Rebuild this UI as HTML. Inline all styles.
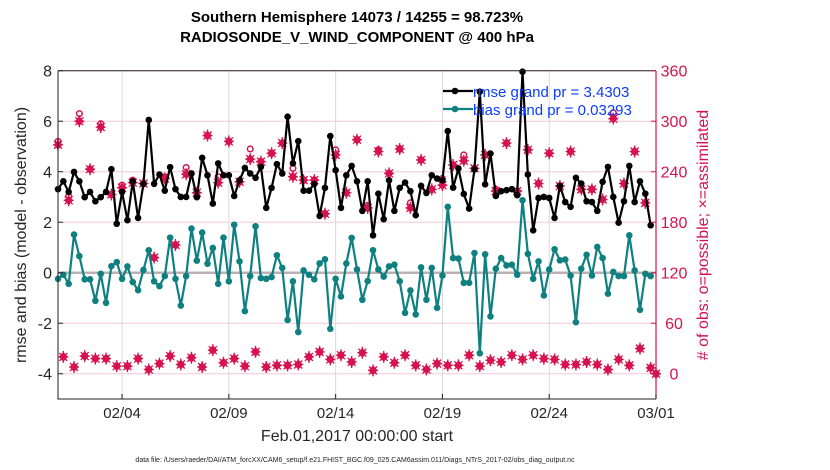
<!DOCTYPE html>
<html><head><meta charset="utf-8"><style>
body{margin:0;background:#fff;}
svg{display:block;font-family:"Liberation Sans",sans-serif;}
</style></head><body>
<svg id="chart" width="830" height="470" viewBox="0 0 830 470"></svg>
<script>
const rmse=[3.31,3.62,3.20,3.99,3.62,2.99,3.20,2.83,2.99,3.20,4.10,1.94,3.20,2.08,3.62,2.17,3.52,6.05,3.52,3.89,3.25,4.18,3.31,3.00,3.00,3.93,2.99,4.55,
3.86,2.74,4.33,3.86,3.86,3.04,3.66,4.15,3.93,3.76,4.19,2.57,3.36,4.30,3.93,6.18,4.33,5.21,3.25,3.25,3.51,2.25,3.36,5.41,4.06,2.57,3.86,4.23,
3.62,2.45,3.62,1.48,3.13,2.12,3.66,2.45,3.36,3.57,3.23,2.28,3.44,3.16,3.86,3.73,3.66,5.61,3.37,4.13,3.12,2.54,4.09,7.17,3.50,4.72,3.04,3.23,
3.27,3.31,3.07,7.96,3.89,1.68,2.96,3.00,2.96,2.17,3.44,2.80,2.61,3.76,3.53,2.83,2.80,2.45,3.60,4.19,3.00,1.98,2.83,4.23,2.80,3.62,3.13,1.88];
const bias=[-0.24,-0.08,-0.44,1.51,0.66,-0.26,-0.26,-1.11,-0.04,-1.19,0.26,0.42,-0.24,0.25,-0.37,-0.69,0.11,0.89,-0.34,-0.53,-0.13,1.39,-0.24,-1.30,-0.13,1.75,0.48,1.59,
0.36,0.98,-0.44,1.39,-0.34,1.90,0.45,-1.52,-0.13,1.84,-0.21,-0.24,-0.17,0.69,0.19,-1.87,-0.34,-2.35,0.09,-0.08,-0.26,0.37,0.53,-2.22,-0.24,-0.94,0.37,1.38,
0.13,-1.07,-0.33,0.89,0.13,-0.15,0.25,0.32,-0.34,-1.59,-0.70,-1.65,0.21,-1.07,0.19,-1.39,-0.11,2.61,0.58,0.56,-0.40,-0.40,0.78,-3.19,0.73,-1.73,0.16,0.58,
0.29,0.32,-0.08,2.87,0.75,-0.24,0.45,-0.90,0.13,0.93,0.49,0.52,-0.11,-1.96,0.16,0.71,-0.11,1.02,0.58,-0.83,0.03,-0.13,-0.13,1.48,0.09,-1.47,-0.04,-0.13];
const assimilated=[272,20,206,8,300,21,243,18,293,18,213,9,221,9,227,18,226,5,138,12,232,21,153,11,237,19,215,8,
283,28,227,13,276,18,228,9,255,26,252,8,262,10,274,10,234,11,230,20,230,26,190,17,260,22,215,14,
278,25,197,4,264,20,238,13,267,22,197,10,254,5,219,12,224,10,248,10,253,22,244,9,260,16,217,14,
274,22,217,17,266,22,226,18,262,17,223,11,264,11,219,14,219,11,207,5,303,17,226,10,264,30,203,7,0];
const possible=[276,20,211,8,309,21,243,18,297,18,213,9,224,9,230,18,226,5,138,12,234,21,153,11,245,19,215,8,
283,28,234,13,276,18,228,9,267,26,252,8,262,10,274,10,244,11,230,20,230,26,190,17,266,22,215,14,
278,25,200,4,266,20,238,13,267,22,203,10,254,5,219,12,232,10,248,10,260,22,244,9,260,16,219,14,
274,22,217,17,266,22,226,18,262,17,223,11,264,11,219,14,219,11,207,5,310,17,226,10,264,30,203,7,0];
const leftTicks=[8,6,4,2,0,-2,-4];
const rightTicks=[360,300,240,180,120,60,0];
const dateTickDays=[3,8,13,18,23,28];
const dateTickLabels=['02/04','02/09','02/14','02/19','02/24','03/01'];

const X0=58,X1=656,Y0=70.7,Y1=399;
const xs=d=>X0+(X1-X0)*d/28;
const ys=v=>Y0+(Y1-Y0)*(8-v)/13;
const yc=c=>ys((c-120)/30);
const NS='http://www.w3.org/2000/svg';
const svg=document.getElementById('chart');
function mk(tag,attrs,parent){const e=document.createElementNS(NS,tag);for(const k in attrs)e.setAttribute(k,attrs[k]);(parent||svg).appendChild(e);return e;}
const RED='#d6124f',TEAL='#0e8080',BLUE='#0a3cff';

leftTicks.forEach(v=>{const g=mk('line',{x1:X0,x2:X1,y1:ys(v),y2:ys(v),stroke:'#f2c8d6','stroke-width':1});

});
dateTickDays.forEach(d=>{const g=mk('line',{x1:xs(d),x2:xs(d),y1:Y0,y2:Y1,stroke:'#d8d8d8','stroke-width':1});

});
const z=mk('line',{x1:X0,x2:X1,y1:ys(0),y2:ys(0),stroke:'#bbb0b3','stroke-width':2.5});



function star(cx,cy,g){
 mk('polygon',{points:`${cx},${cy-5} ${cx+4.5},${cy} ${cx},${cy+5} ${cx-4.5},${cy}`,fill:RED},g);
 mk('path',{d:`M${cx-5},${cy}H${cx+5}M${cx},${cy-6}V${cy+6}M${cx-4},${cy-4}L${cx+4},${cy+4}M${cx-4},${cy+4}L${cx+4},${cy-4}`,stroke:RED,'stroke-width':1.3},g);
}
const cg=mk('g',{});


possible.forEach((c,i)=>{const el=mk('circle',{cx:xs(i*0.25),cy:yc(c),r:2.8,fill:'none',stroke:RED,'stroke-width':1.5},cg);

});
assimilated.forEach((c,i)=>{const g=mk('g',{},cg);


star(xs(i*0.25),yc(c),g);});

function series(arr,color,name){
 const g=mk('g',{});
 
 
 mk('polyline',{points:arr.map((v,i)=>xs(i*0.25)+','+ys(v)).join(' '),fill:'none',stroke:color,'stroke-width':2.2,'stroke-linejoin':'round'},g);
 arr.forEach((v,i)=>{const c=mk('circle',{cx:xs(i*0.25),cy:ys(v),r:3.3,fill:color},g);
 
 });
}
series(bias,TEAL,'bias-series');
series(rmse,'#000','rmse-series');

const ax=mk('path',{d:`M${X0},${Y0}V${Y1}H${X1}M${X0},${Y0}H${X1}`,stroke:'#222','stroke-width':1,fill:'none'});


const ra=mk('line',{x1:X1,x2:X1,y1:Y0,y2:Y1,stroke:RED,'stroke-width':1.2});



leftTicks.forEach(v=>{const t=mk('text',{x:52,y:ys(v)+6,'text-anchor':'end','font-size':16,fill:'#262626'});t.textContent=v;


mk('line',{x1:X0,x2:X0+5,y1:ys(v),y2:ys(v),stroke:'#222'});});
rightTicks.forEach(c=>{const t=mk('text',{x:674,y:yc(c)+6,'text-anchor':'middle','font-size':16,fill:RED});t.textContent=c;


mk('line',{x1:X1-5,x2:X1,y1:yc(c),y2:yc(c),stroke:RED});});
dateTickDays.forEach((d,i)=>{const t=mk('text',{x:xs(d),y:418,'text-anchor':'middle','font-size':15,fill:'#262626'});t.textContent=dateTickLabels[i];


mk('line',{x1:xs(d),x2:xs(d),y1:Y1-5,y2:Y1,stroke:'#222'});});
</script>
<svg style="position:absolute;left:0;top:0" width="830" height="470">
<text x="357" y="22" text-anchor="middle" font-size="15" font-weight="bold" font-family="Liberation Sans,sans-serif">Southern Hemisphere 14073 / 14255 = 98.723%</text>
<text x="357" y="42" text-anchor="middle" font-size="15" font-weight="bold" font-family="Liberation Sans,sans-serif">RADIOSONDE_V_WIND_COMPONENT @ 400 hPa</text>
<text x="357" y="441" text-anchor="middle" font-size="16" fill="#262626" font-family="Liberation Sans,sans-serif">Feb.01,2017 00:00:00 start</text>
<text x="355" y="462" text-anchor="middle" font-size="7" fill="#222" font-family="Liberation Sans,sans-serif">data file: /Users/raeder/DAI/ATM_forcXX/CAM6_setup/f.e21.FHIST_BGC.f09_025.CAM6assim.011/Diags_NTrS_2017-02/obs_diag_output.nc</text>
<text transform="translate(26,235) rotate(-90)" text-anchor="middle" font-size="16" fill="#262626" font-family="Liberation Sans,sans-serif">rmse and bias (model - observation)</text>
<text transform="translate(708,235) rotate(-90)" text-anchor="middle" font-size="16" fill="#d6124f" font-family="Liberation Sans,sans-serif"># of obs: o=possible; ×=assimilated</text>
<g>
<g>
<line x1="443" x2="473" y1="91" y2="91" stroke="#000" stroke-width="2.2"/><circle cx="455" cy="91" r="3.3" fill="#000"/>
<text x="473" y="97" font-size="15" fill="#0a3cff" font-family="Liberation Sans,sans-serif">rmse grand pr = 3.4303</text></g>
<g>
<line x1="443" x2="473" y1="109" y2="109" stroke="#0e8080" stroke-width="2.2"/><circle cx="455" cy="109" r="3.3" fill="#0e8080"/>
<text x="473" y="115" font-size="15" fill="#0a3cff" font-family="Liberation Sans,sans-serif">bias grand pr = 0.03293</text></g>
</g>
</svg>
</body></html>
